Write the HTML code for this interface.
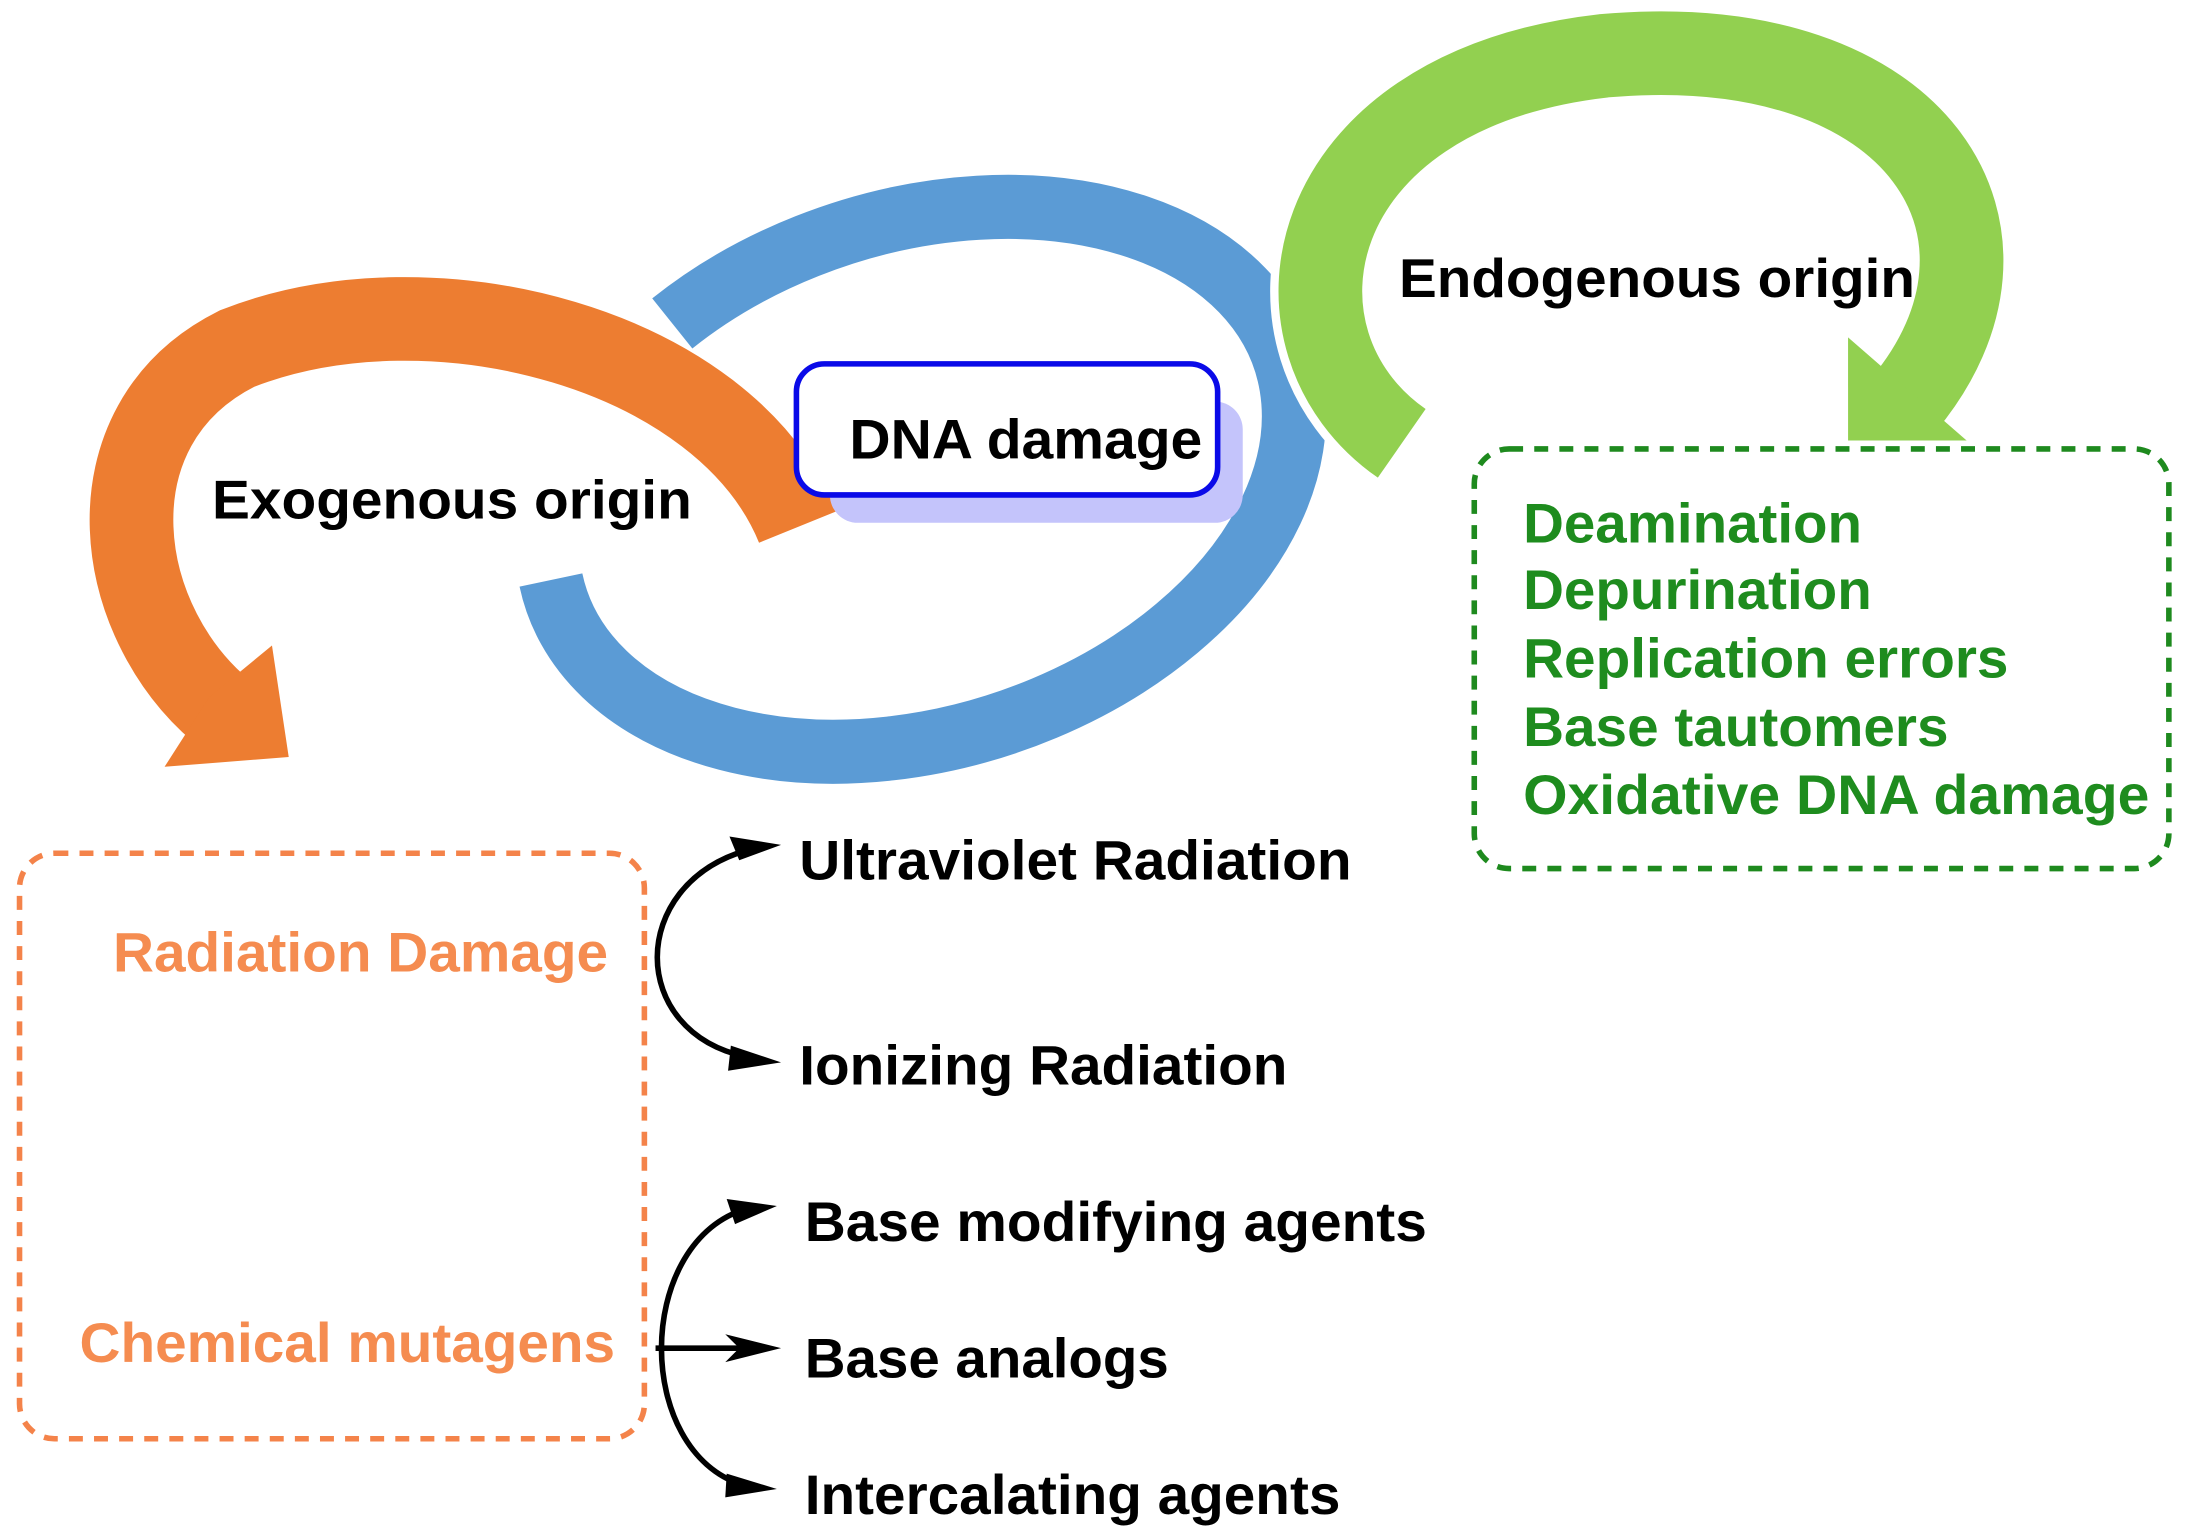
<!DOCTYPE html>
<html><head><meta charset="utf-8"><style>html,body{margin:0;padding:0;background:#fff}svg{display:block}</style></head>
<body>
<svg width="2187" height="1528" viewBox="0 0 1568 1096" preserveAspectRatio="none" xmlns="http://www.w3.org/2000/svg" font-family="Liberation Sans, Arial, sans-serif" font-weight="bold">
<!-- blue ring -->
<path d="M 395 416 A 275 185 -18 1 0 482 232" fill="none" stroke="#5b9bd5" stroke-width="46"/>
<!-- orange arrow -->
<path d="M 572 378 C 520 250, 310 195, 170 250 C 60 305, 80 450, 165 515" fill="none" stroke="#ed7d31" stroke-width="60"/>
<polygon points="118,550 207,543 195,463 150,500" fill="#ed7d31"/>
<!-- green arrow -->
<path d="M 1005 318 C 900 245, 930 65, 1150 40 C 1380 20, 1465 170, 1365 290" fill="none" stroke="#ffffff" stroke-width="72"/>
<path d="M 1005 318 C 900 245, 930 65, 1150 40 C 1380 20, 1465 170, 1365 290" fill="none" stroke="#92d050" stroke-width="60"/>
<polygon points="1325,242 1410,316 1325,316" fill="#92d050"/>
<!-- DNA damage box -->
<rect x="595" y="288" width="296" height="87" rx="20" fill="#c4c4fb"/>
<rect x="571" y="261" width="302" height="94" rx="20" fill="#fff" stroke="#0a0ae8" stroke-width="4"/>
<text x="609" y="329" font-size="40" textLength="253" lengthAdjust="spacingAndGlyphs" fill="#000">DNA damage</text>
<text x="152" y="372" font-size="39" textLength="344" lengthAdjust="spacingAndGlyphs" fill="#000">Exogenous origin</text>
<text x="1003" y="213" font-size="39" textLength="370" lengthAdjust="spacingAndGlyphs" fill="#000">Endogenous origin</text>
<!-- green list -->
<rect x="1057" y="322" width="498" height="301" rx="25" fill="none" stroke="#1e8a1e" stroke-width="4" stroke-dasharray="10,8"/>
<g font-size="40" fill="#1e8c1e" lengthAdjust="spacingAndGlyphs">
<text x="1092" y="389" textLength="243" lengthAdjust="spacingAndGlyphs">Deamination</text>
<text x="1092" y="437" textLength="250" lengthAdjust="spacingAndGlyphs">Depurination</text>
<text x="1092" y="486" textLength="348" lengthAdjust="spacingAndGlyphs">Replication errors</text>
<text x="1092" y="535" textLength="305" lengthAdjust="spacingAndGlyphs">Base tautomers</text>
<text x="1092" y="584" textLength="449" lengthAdjust="spacingAndGlyphs">Oxidative DNA damage</text>
</g>
<!-- orange box -->
<rect x="14" y="612" width="448" height="420" rx="25" fill="none" stroke="#f4834a" stroke-width="4" stroke-dasharray="10,8"/>
<text x="81" y="697" font-size="40" textLength="355" lengthAdjust="spacingAndGlyphs" fill="#f58c50">Radiation Damage</text>
<text x="57" y="977" font-size="40" textLength="384" lengthAdjust="spacingAndGlyphs" fill="#f58c50">Chemical mutagens</text>
<!-- black items -->
<g font-size="40" fill="#000">
<text x="573" y="631" textLength="396" lengthAdjust="spacingAndGlyphs">Ultraviolet Radiation</text>
<text x="573" y="778" textLength="350" lengthAdjust="spacingAndGlyphs">Ionizing Radiation</text>
<text x="577" y="890" textLength="446" lengthAdjust="spacingAndGlyphs">Base modifying agents</text>
<text x="577" y="988" textLength="261" lengthAdjust="spacingAndGlyphs">Base analogs</text>
<text x="577" y="1086" textLength="384" lengthAdjust="spacingAndGlyphs">Intercalating agents</text>
</g>
<!-- connectors -->
<g fill="none" stroke="#000" stroke-width="4">
<path d="M 535 610 C 450 635, 450 740, 535 758"/>
<path d="M 532 868 C 455 895, 455 1040, 532 1065"/>
<path d="M 470 967 L 535 967"/>
</g>
<g fill="#000">
<polygon points="560,606 523,600 530,617"/>
<polygon points="560,762 524,750 522,768"/>
<polygon points="557,865 521,860 527,878"/>
<polygon points="560,967 520,957 530,967 520,977"/>
<polygon points="557,1068 521,1057 520,1074"/>
</g>
</svg>
</body></html>
